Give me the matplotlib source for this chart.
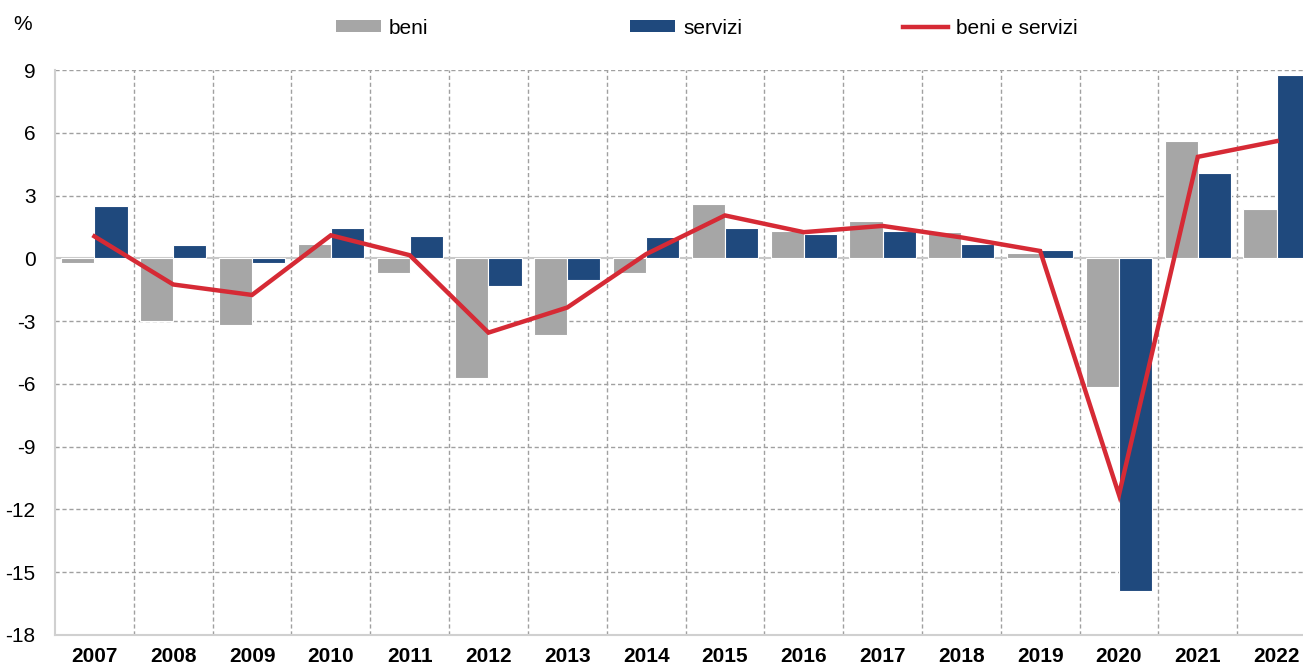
import matplotlib
matplotlib.use("Agg")
import matplotlib.pyplot as plt
import numpy as np
from matplotlib.patches import Patch
from matplotlib.lines import Line2D
from matplotlib.ticker import MultipleLocator

years = ["2007", "2008", "2009", "2010", "2011", "2012", "2013", "2014",
         "2015", "2016", "2017", "2018", "2019", "2020", "2021", "2022"]
beni = [-0.2, -3.0, -3.2, 0.7, -0.7, -5.7, -3.65, -0.7,
        2.6, 1.3, 1.8, 1.25, 0.25, -6.15, 5.6, 2.35]
servizi = [2.5, 0.65, -0.2, 1.45, 1.05, -1.3, -1.05, 1.0,
           1.45, 1.15, 1.3, 0.7, 0.4, -15.9, 4.1, 8.75]
beni_e_servizi = [1.05, -1.25, -1.75, 1.1, 0.15, -3.55, -2.35, 0.2,
                  2.05, 1.25, 1.55, 1.0, 0.35, -11.3, 4.85, 5.6]

C_BENI = "#a6a6a6"
C_SERV = "#1f497d"
C_LINE = "#d62a35"

plt.rcParams["font.family"] = ["Liberation Sans Narrow", "Liberation Sans", "DejaVu Sans"]
plt.rcParams["axes.unicode_minus"] = False

W, H = 1303, 670
fig = plt.figure(figsize=(W / 100, H / 100), dpi=100)
ax = fig.add_axes([55 / W, 1 - 635 / H, (1316 - 55) / W, (635 - 70) / H])

x = np.arange(len(years))
bw = 0.42
ax.bar(x - bw / 2, beni, width=bw, color=C_BENI, edgecolor="white", linewidth=0.8, zorder=3)
ax.bar(x + bw / 2, servizi, width=bw, color=C_SERV, edgecolor="white", linewidth=0.8, zorder=3)
ax.plot(x, beni_e_servizi, color=C_LINE, linewidth=3.2, zorder=4, solid_joinstyle="miter")

ax.set_xlim(-0.5, len(years) - 0.5)
ax.set_ylim(-18, 9)
ax.yaxis.set_major_locator(MultipleLocator(3))
ax.set_xticks(x)
ax.set_xticklabels(years, fontsize=15, fontweight="bold")
ax.tick_params(axis="x", length=0, pad=9)
ax.tick_params(axis="y", length=0, pad=14, labelsize=15)

# grid
for yv in np.arange(-15, 10, 3):
    if yv == 0:
        continue
    ax.axhline(yv, color="#a0a0a0", linewidth=1.0, linestyle=(0, (3, 2)), zorder=1)
ax.axhline(0, color="#c8c8c8", linewidth=1.5, zorder=2)
for xv in np.arange(0.5, len(years) - 0.5, 1):
    ax.axvline(xv, color="#a0a0a0", linewidth=1.0, linestyle=(0, (3, 2)), zorder=1)

for s in ["top", "right"]:
    ax.spines[s].set_visible(False)
for s in ["left", "bottom"]:
    ax.spines[s].set_color("#d0d0d0")
    ax.spines[s].set_linewidth(1.5)

fig.text(13 / W, 1 - 25 / H, "%", fontsize=15, va="center", ha="left")

fs = 15
fpx = fs * 100 / 72
handles = [
    (Patch(facecolor=C_BENI, edgecolor="none"), "beni", 336),
    (Patch(facecolor=C_SERV, edgecolor="none"), "servizi", 630),
    (Line2D([0], [0], color=C_LINE, linewidth=3.2), "beni e servizi", 903),
]
for h, lab, px in handles:
    fig.legend([h], [lab], loc="center left", bbox_to_anchor=(px / W, 1 - 28 / H),
               frameon=False, fontsize=fs, handlelength=45 / fpx, handleheight=0.5,
               handletextpad=8 / fpx, borderpad=0, borderaxespad=0)

fig.savefig("out.png", dpi=100)
